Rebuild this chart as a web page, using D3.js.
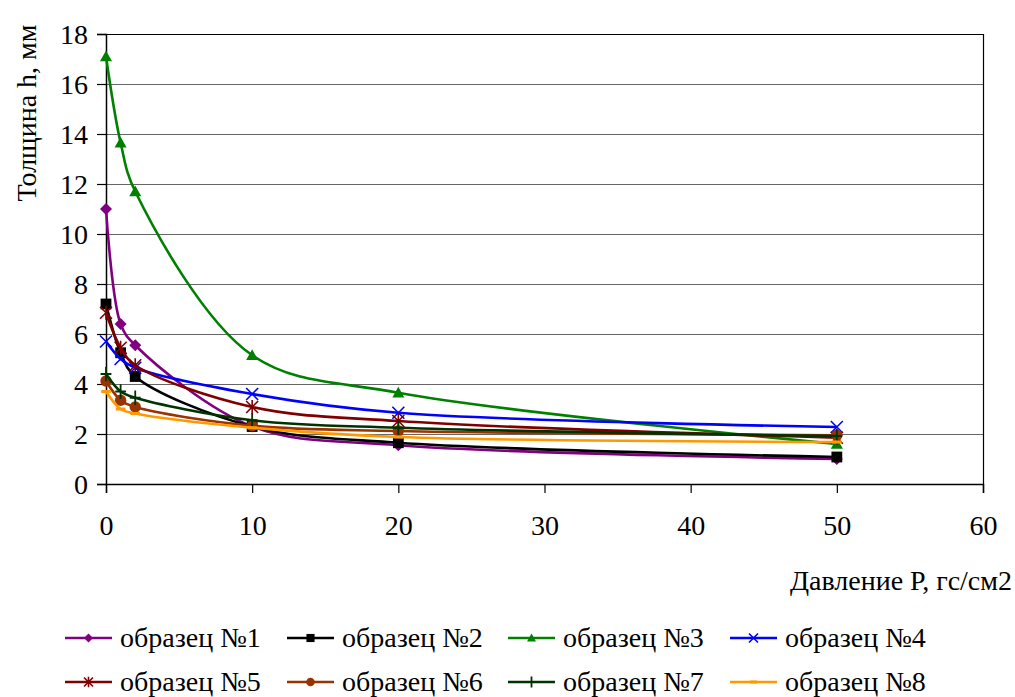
<!DOCTYPE html>
<html><head><meta charset="utf-8">
<script src="https://cdn.jsdelivr.net/npm/d3@7"></script>
</head>
<body style="margin:0">
<svg id="chart" width="1015" height="697"></svg>
<script>
// ---- data ----
const pressures = [0, 1, 2, 10, 20, 50];
const seriesNames = ["образец №1","образец №2","образец №3","образец №4","образец №5","образец №6","образец №7","образец №8"];
const s1 = [11.0, 6.4, 5.55, 2.3, 1.55, 1.0];
const s2 = [7.2, 5.25, 4.3, 2.3, 1.65, 1.08];
const s3 = [17.1, 13.65, 11.7, 5.15, 3.65, 1.6];
const s4 = [5.7, 5.0, 4.65, 3.6, 2.85, 2.28];
const s5 = [6.85, 5.45, 4.75, 3.08, 2.52, 1.85];
const s6 = [4.12, 3.35, 3.08, 2.33, 2.12, 1.95];
const s7 = [4.4, 3.7, 3.45, 2.55, 2.25, 1.92];
const s8 = [3.7, 3.0, 2.82, 2.25, 1.88, 1.68];
const seriesValues = [s1, s2, s3, s4, s5, s6, s7, s8];
const xTicks = [0, 10, 20, 30, 40, 50, 60];
const yTicks = [0, 2, 4, 6, 8, 10, 12, 14, 16, 18];
const xTitle = "Давление Р, гс/см2";
const yTitle = "Толщина h, мм";

// ---- styles ----
const colors = ["#800080", "#000000", "#008000", "#0000FF", "#800000", "#993300", "#003300", "#FF9900"];
const markers = ["diamond", "square", "triangle", "x", "star", "circle", "plus", "dash"];
const FS = 28;

const svg = d3.select("#chart");
const x = d3.scaleLinear().domain([0, 60]).range([106, 983]);
const y = d3.scaleLinear().domain([0, 18]).range([484, 34]);

function styleText(sel) {
  return sel.attr("font-size", FS).style("font-family", "'Liberation Serif'").attr("fill", "#000");
}

// gridlines
svg.append("g").selectAll("line").data(yTicks.filter(d => d > 0)).join("line")
  .attr("x1", x(0)).attr("x2", x(60))
  .attr("y1", d => Math.round(y(d)) + 0.5).attr("y2", d => Math.round(y(d)) + 0.5)
  .attr("stroke", d => d === 18 ? "#000" : "#666").attr("stroke-width", 1.2);
// right border
svg.append("line").attr("x1", x(60) + 0.5).attr("x2", x(60) + 0.5)
  .attr("y1", y(18)).attr("y2", y(0)).attr("stroke", "#000").attr("stroke-width", 1.2);

// axes
const yAxis = d3.axisLeft(y).tickValues(yTicks).tickSize(9).tickPadding(9).tickFormat(d3.format("d"));
const gy = svg.append("g").attr("transform", `translate(${x(0)},0)`).call(yAxis);
const xAxis = d3.axisBottom(x).tickValues(xTicks).tickSize(9).tickPadding(22).tickFormat(d3.format("d"));
const gx = svg.append("g").attr("transform", `translate(0,${y(0)})`).call(xAxis);
[gx, gy].forEach(g => {
  g.attr("font-family", null).attr("font-size", null);
  g.select(".domain").attr("stroke", "#000").attr("stroke-width", 1.5);
  g.selectAll(".tick line").attr("stroke", "#000").attr("stroke-width", 1.2);
  styleText(g.selectAll(".tick text"));
});
gy.selectAll(".tick text").attr("dy", "0.35em");
gx.selectAll(".tick text").attr("dy", "0.71em");

// titles
styleText(svg.append("text").attr("transform", "translate(36,113) rotate(-90)")
  .attr("text-anchor", "middle")).text(yTitle);
styleText(svg.append("text").attr("x", 1012).attr("y", 590)
  .attr("text-anchor", "end")).text(xTitle);

// marker drawing
function drawMarker(g, type, color, s) {
  const h = s / 2;
  switch (type) {
    case "diamond":
      g.append("path").attr("d", `M0,${-h}L${h},0L0,${h}L${-h},0Z`).attr("fill", color); break;
    case "square":
      g.append("rect").attr("x", -h * 0.9).attr("y", -h * 0.9).attr("width", s * 0.9).attr("height", s * 0.9).attr("fill", color); break;
    case "triangle":
      g.append("path").attr("d", `M0,${-h}L${h},${h * 0.8}L${-h},${h * 0.8}Z`).attr("fill", color); break;
    case "circle":
      g.append("circle").attr("r", h * 0.95).attr("fill", color); break;
    case "x":
      g.append("path").attr("d", `M${-h},${-h}L${h},${h}M${-h},${h}L${h},${-h}`).attr("stroke", color).attr("stroke-width", 1.6).attr("fill", "none"); break;
    case "star":
      g.append("path").attr("d", `M${-h},${-h}L${h},${h}M${-h},${h}L${h},${-h}M0,${-h * 1.15}L0,${h * 1.15}`).attr("stroke", color).attr("stroke-width", 1.6).attr("fill", "none"); break;
    case "plus":
      g.append("path").attr("d", `M0,${-h * 1.2}L0,${h * 1.2}M${-h * 0.9},0L${h * 0.9},0`).attr("stroke", color).attr("stroke-width", 1.8).attr("fill", "none"); break;
    case "dash":
      g.append("path").attr("d", `M${-h * 0.8},0L${h * 0.8},0`).attr("stroke", color).attr("stroke-width", 3).attr("fill", "none"); break;
  }
}

// series
const line = d3.line().x(d => x(d[0])).y(d => y(d[1])).curve(d3.curveCatmullRom.alpha(0.5));
seriesValues.forEach((vals, i) => {
  const pts = pressures.map((p, j) => [p, vals[j]]);
  const g = svg.append("g");
  g.append("path").attr("d", line(pts)).attr("fill", "none")
    .attr("stroke", colors[i]).attr("stroke-width", 2.6).attr("stroke-linejoin", "round");
  pts.forEach(p => {
    const mg = g.append("g").attr("transform", `translate(${x(p[0])},${y(p[1])})`);
    drawMarker(mg, markers[i], colors[i], 12);
  });
});

// legend
const legX = [65, 287, 508, 730];
const legY = [638, 682];
seriesNames.forEach((name, i) => {
  const cx = legX[i % 4], cy = legY[Math.floor(i / 4)];
  const g = svg.append("g").attr("transform", `translate(${cx},${cy})`);
  g.append("line").attr("x1", 0).attr("x2", 47).attr("y1", 0).attr("y2", 0)
    .attr("stroke", colors[i]).attr("stroke-width", 2.6);
  const mg = g.append("g").attr("transform", "translate(23.5,0)");
  drawMarker(mg, markers[i], colors[i], 9);
  styleText(g.append("text").attr("x", 55).attr("y", 9)).text(name);
});
</script>
</body></html>
